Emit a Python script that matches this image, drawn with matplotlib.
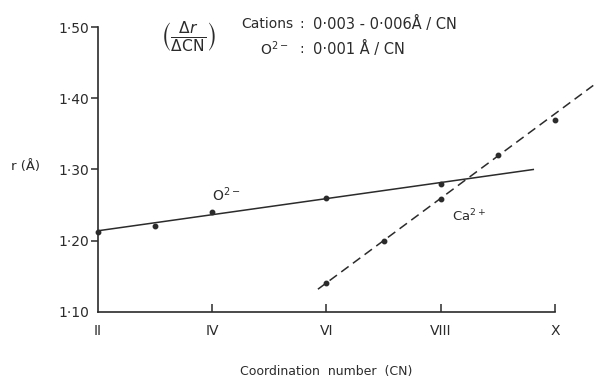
import matplotlib.pyplot as plt

# Data
cn_ticks = [2, 4, 6, 8, 10]
cn_labels = ['II', 'IV', 'VI', 'VIII', 'X']
r_ticks = [1.10, 1.20, 1.30, 1.40, 1.50]
r_labels = ['1·10', '1·20', '1·30', '1·40', '1·50']

o2_cn = [2, 3, 4, 6, 8]
o2_r = [1.212, 1.220, 1.241, 1.260, 1.279]
o2_line_cn = [2.0, 9.62]
o2_line_r = [1.214, 1.300]

ca_cn = [6, 7, 8, 9, 10]
ca_r = [1.141, 1.200, 1.259, 1.320, 1.369]
ca_line_cn = [5.85, 10.67]
ca_line_r = [1.132, 1.418]

ink = '#2b2b2b'
plt.rcParams['font.family'] = ['DejaVu Sans']

fig = plt.figure(figsize=(5.96, 3.83), dpi=100, facecolor='white')
ax = fig.add_axes([0.1644, 0.1854, 0.7668, 0.7441])

ax.plot(o2_line_cn, o2_line_r, color=ink, lw=1.1, clip_on=False)
ax.plot(o2_cn, o2_r, 'o', color=ink, ms=3.2, clip_on=False)
ax.plot(ca_line_cn, ca_line_r, color=ink, lw=1.1, ls=(0, (6, 3.5)), clip_on=False)
ax.plot(ca_cn, ca_r, 'o', color=ink, ms=3.2, clip_on=False)

ax.set_xlim(2, 10)
ax.set_ylim(1.10, 1.50)
for s in ['top', 'right']:
    ax.spines[s].set_visible(False)
for s in ['left', 'bottom']:
    ax.spines[s].set_color(ink)
    ax.spines[s].set_linewidth(1.2)

ax.set_xticks(cn_ticks)
ax.set_xticklabels(cn_labels)
ax.set_yticks(r_ticks)
ax.set_yticklabels(r_labels)
ax.tick_params(axis='x', direction='in', length=6, width=1.1, colors=ink,
               labelsize=10, pad=9)
ax.tick_params(axis='y', direction='out', length=5, width=1.1, colors=ink,
               labelsize=10, pad=1)
ax.xaxis.get_major_ticks()[0].tick1line.set_visible(False)
ax.yaxis.get_major_ticks()[0].tick1line.set_visible(False)

ax.set_xlabel('Coordination  number  (CN)', fontsize=9, color=ink, labelpad=19)
fig.text(0.018, 0.565, 'r (Å)', fontsize=9.5, color=ink, va='center', ha='left')

# annotations
ax.text(3.58, 1.486, r'$\left(\frac{\Delta r}{\Delta \mathrm{CN}}\right)$',
        fontsize=16, color=ink, ha='center', va='center')
ax.text(4.50, 1.504, 'Cations', fontsize=10, color=ink, ha='left', va='center')
ax.text(5.57, 1.504, ':', fontsize=10, color=ink, ha='center', va='center')
ax.text(5.77, 1.504, '0·003 - 0·006Å / CN', fontsize=10.5, color=ink,
        ha='left', va='center')
ax.text(4.84, 1.469, 'O$^{2-}$', fontsize=10, color=ink, ha='left', va='center')
ax.text(5.57, 1.469, ':', fontsize=10, color=ink, ha='center', va='center')
ax.text(5.77, 1.469, '0·001 Å / CN', fontsize=10.5, color=ink, ha='left', va='center')
ax.text(4.25, 1.265, 'O$^{2-}$', fontsize=10, color=ink, ha='center', va='center')
ax.text(8.5, 1.235, 'Ca$^{2+}$', fontsize=9.5, color=ink, ha='center', va='center')

fig.savefig('out.png', dpi=100, facecolor='white')
